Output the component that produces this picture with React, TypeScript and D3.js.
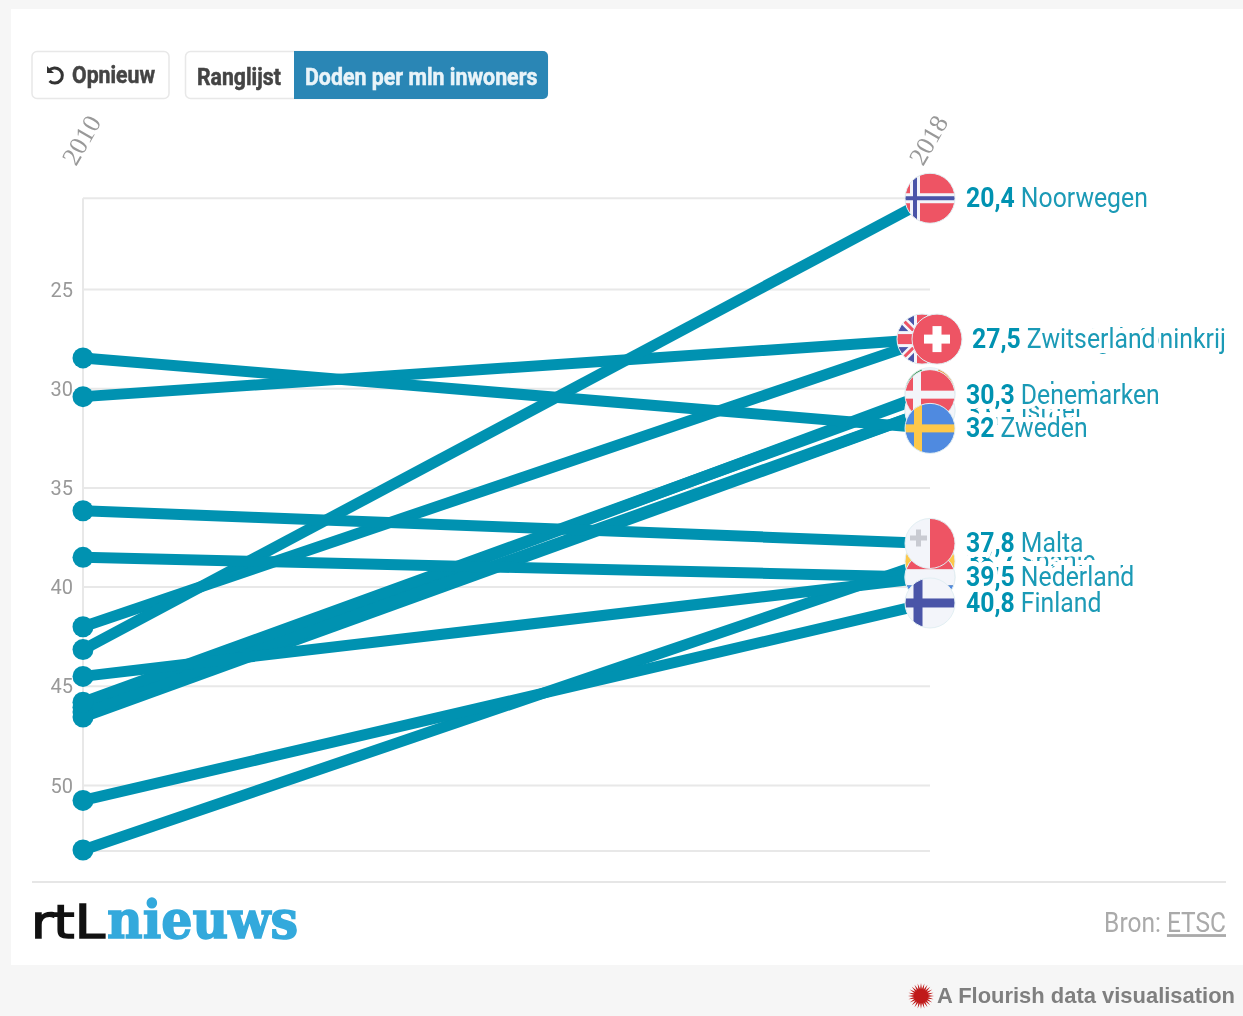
import React from "react";
import * as d3 from "d3";

const years = [2010, 2018];
const axisTicks = [25, 30, 35, 40, 45, 50];
const countries = ["Verenigd Koninkrijk", "Zwitserland", "Noorwegen", "Ierland", "IJsland", "Israël", "Denemarken", "Zweden", "Spanje", "Duitsland", "Malta", "Nederland", "Finland"];
const flags = ["uk", "ch", "no", "ie", "is", "il", "dk", "se", "es", "de", "mt", "nl", "fi"];
const values2010 = [30.4, 42, 43.15, 46.05, 46.55, 46.3, 45.8, 28.45, 53.25, 38.5, 36.15, 44.5, 50.75];
const values2018 = [27.5, 27.5, 20.4, 30.2, 31.1, 31.1, 30.3, 32, 38.7, 39.5, 37.8, 39.5, 40.8];
const flagStack = ["uk", "ch", "no", "ie", "is", "il", "dk", "se", "es", "de", "nl", "mt", "fi"];
const flagNudge: Record<string, number> = { uk: -8, ch: 7 };
const labelNudge: Record<string, number> = { uk: 6, ch: 6 };
const unlabelled = new Set(["is"]);

const W = 1243, H = 1016;
const TEAL = "#0092b1";
const RED = "#ee5464";
const NAVY = "#4a55a8";
const PAPER = "#f3f5fa";
const CONDENSED = "scale(0.885,1)";

const y = d3.scaleLinear().domain([25, 50]).range([289.5, 785.5]);
const x = d3.scaleLinear().domain(years).range([83, 930]);
const gridValues = [20.4, ...axisTicks, 53.3];

function cross(bg: string, fg: string, cx: number, w: number, inner?: string) {
  return (
    <g>
      <rect x={-25} y={-25} width={50} height={50} fill={bg} />
      <rect x={cx - w / 2} y={-25} width={w} height={50} fill={fg} />
      <rect x={-25} y={-w / 2} width={50} height={w} fill={fg} />
      {inner && <rect x={cx - 2} y={-25} width={4} height={50} fill={inner} />}
      {inner && <rect x={-25} y={-2} width={50} height={4} fill={inner} />}
    </g>
  );
}

function FlagArt({ code }: { code: string }) {
  const band = (c: string, yy: number, h: number) => <rect x={-25} y={yy} width={50} height={h} fill={c} />;
  switch (code) {
    case "no": return cross(RED, PAPER, -15, 10, NAVY);
    case "is": return cross(NAVY, PAPER, -12, 10, RED);
    case "dk": return cross(RED, PAPER, -13, 8);
    case "se": return cross("#4f8ae0", "#fdc84a", -12, 8);
    case "fi": return cross(PAPER, NAVY, -12, 9);
    case "ch":
      return (
        <g>
          <rect x={-25} y={-25} width={50} height={50} fill={RED} />
          <rect x={-13} y={-4.5} width={26} height={9} fill="#fff" />
          <rect x={-4.5} y={-13} width={9} height={26} fill="#fff" />
        </g>
      );
    case "uk":
      return (
        <g>
          <rect x={-25} y={-25} width={50} height={50} fill={NAVY} />
          <path d="M-25-25L25 25M25-25L-25 25" stroke={PAPER} strokeWidth={8} />
          <path d="M-25-25L25 25M25-25L-25 25" stroke={RED} strokeWidth={3} />
          <rect x={-25} y={-8} width={50} height={16} fill={PAPER} />
          <rect x={-8} y={-25} width={16} height={50} fill={PAPER} />
          <rect x={-25} y={-5} width={50} height={10} fill={RED} />
          <rect x={-5} y={-25} width={10} height={50} fill={RED} />
        </g>
      );
    case "nl": return <g>{band(RED, -25, 17)}{band(PAPER, -8, 16)}{band("#4f8ae0", 8, 17)}</g>;
    case "de": return <g>{band("#333", -25, 17)}{band(RED, -8, 16)}{band("#fdc84a", 8, 17)}</g>;
    case "es": return <g>{band(RED, -25, 13)}{band("#fdc84a", -12, 24)}{band(RED, 12, 13)}</g>;
    case "il": return <g>{band(PAPER, -25, 50)}{band("#4f8ae0", -18, 6)}{band("#4f8ae0", 12, 6)}</g>;
    case "ie":
      return (
        <g>
          <rect x={-25} y={-25} width={17} height={50} fill="#3f9c5a" />
          <rect x={-8} y={-25} width={16} height={50} fill={PAPER} />
          <rect x={8} y={-25} width={17} height={50} fill="#f39a3c" />
        </g>
      );
    case "mt":
      return (
        <g>
          <rect x={-25} y={-25} width={25} height={50} fill={PAPER} />
          <rect x={0} y={-25} width={25} height={50} fill={RED} />
          <path d="M-20-8h6v-6h5v6h6v5h-6v6h-5v-6h-6z" fill="#c9cbd2" />
        </g>
      );
    default: return null;
  }
}

const burst = d3.range(48).map((i) => ({ a: (i / 48) * 2 * Math.PI, r: i % 2 ? 7 : 13 }));
const burstPath = d3.lineRadial<{ a: number; r: number }>().angle((d) => d.a).radius((d) => d.r).curve(d3.curveLinearClosed)(burst) as string;

export default function App() {
  const order = d3.range(countries.length);
  const lineFor = d3.line<number>().x((_, j) => x(years[j])).y((v) => y(v));
  return (
    <svg width={W} height={H} viewBox={`0 0 ${W} ${H}`} style={{ position: "absolute", left: 0, top: 0, filter: "blur(0.55px)" }} fontFamily="Roboto, sans-serif">
      <defs>
        <clipPath id="flag-clip"><circle r={25} /></clipPath>
        <clipPath id="label-clip"><rect x={900} y={150} width={327} height={500} /></clipPath>
      </defs>
      <rect width={W} height={H} fill="#f6f6f6" />
      <rect x={11} y={9} width={W - 11} height={956} fill="#fff" />

      {/* controls */}
      <rect x={32} y={51.5} width={137} height={47} rx={5} fill="#fff" stroke="#e8e8e8" strokeWidth={1.5} />
      <path d="M49 70.5A7.6 7.6 0 1 1 49.5 81" fill="none" stroke="#333" strokeWidth={3} />
      <path d="M47 66v7h7z" fill="#333" />
      <text transform="translate(72,83) scale(0.885,1)" fontSize={24} fontWeight={700} fill="#444" stroke="#444" strokeWidth={0.5}>Opnieuw</text>
      <rect x={185.5} y={51.5} width={362} height={47} rx={5} fill="#fff" stroke="#e8e8e8" strokeWidth={1.5} />
      <path d="M294 51H543a5 5 0 0 1 5 5V94a5 5 0 0 1-5 5H294z" fill="#2a86b5" />
      <text transform="translate(197,85) scale(0.885,1)" fontSize={24} fontWeight={700} fill="#444" stroke="#444" strokeWidth={0.5}>Ranglijst</text>
      <text transform="translate(305,85) scale(0.89,1)" fontSize={24} fontWeight={700} fill="#e9f4f9" stroke="#e9f4f9" strokeWidth={0.5}>Doden per mln inwoners</text>

      {/* grid */}
      {gridValues.map((v) => (
        <line key={v} x1={x(years[0])} x2={x(years[1])} y1={y(v)} y2={y(v)} stroke="#e8e8e8" strokeWidth={2} />
      ))}
      <line x1={x(years[0])} x2={x(years[0])} y1={y(gridValues[0])} y2={y(53.3)} stroke="#e8e8e8" strokeWidth={2} />
      {axisTicks.map((v) => (
        <text key={v} x={73} y={y(v) + 7} textAnchor="end" fontSize={20} fill="#999">{v}</text>
      ))}
      {years.map((yr) => (
        <text key={yr} transform={`translate(${x(yr) - 7},${167}) rotate(-60)`} fontFamily="'Liberation Serif', serif" fontSize={26} fill="#999">{yr}</text>
      ))}

      {/* lines */}
      {order.map((i) => (
        <g key={countries[i]}>
          <path d={lineFor([values2010[i], values2018[i]]) as string} fill="none" stroke={TEAL} strokeWidth={11} />
          <circle cx={x(years[0])} cy={y(values2010[i])} r={10.5} fill={TEAL} />
        </g>
      ))}

      {/* flags */}
      {flagStack.map((code) => {
        const i = flags.indexOf(code);
        const nudge = flagNudge[code] ?? 0;
        return (
          <g key={code} transform={`translate(${x(years[1]) + nudge},${y(values2018[i])})`}>
            <g clipPath="url(#flag-clip)"><FlagArt code={code} /></g>
            <circle r={25} fill="none" stroke="#e2eff3" strokeWidth={1} />
          </g>
        );
      })}

      {/* labels */}
      <g clipPath="url(#label-clip)">
        {order.filter((i) => !unlabelled.has(flags[i])).map((i) => {
          const nudge = labelNudge[flags[i]] ?? 0;
          return (
            <text
              key={countries[i]}
              transform={`translate(${966 + nudge},${y(values2018[i]) + 9}) ${CONDENSED}`}
              fontSize={28}
              fill="#1b9ab6"
              stroke="#fff"
              strokeWidth={10}
              paintOrder="stroke"
            >
              <tspan fontWeight={700} fill={TEAL}>{String(values2018[i]).replace(".", ",")}</tspan>
              <tspan> {countries[i]}</tspan>
            </text>
          );
        })}
      </g>

      {/* footer */}
      <line x1={32} x2={1226} y1={882} y2={882} stroke="#e6e6e6" strokeWidth={2} />
      <text x={31} y={938} fontFamily="'DejaVu Sans', sans-serif" fontSize={46} fill="#111" stroke="#111" strokeWidth={1.5} textLength={74} lengthAdjust="spacingAndGlyphs">rtL</text>
      <text x={107} y={938} fontFamily="'DejaVu Serif', serif" fontSize={52} fontWeight={700} fill="#33a9dc" stroke="#33a9dc" strokeWidth={1.5} textLength={191} lengthAdjust="spacingAndGlyphs">nieuws</text>
      <text transform="translate(1226,932) scale(0.875,1)" textAnchor="end" fontSize={28} fill="#aaa">
        Bron: <tspan textDecoration="underline">ETSC</tspan>
      </text>
      <path d={burstPath} transform="translate(921,996)" fill="#c01a1a" />
      <text x={937} y={1003} fontFamily="'Liberation Sans', sans-serif" fontSize={22} fontWeight={700} fill="#7f7f7f" textLength={298} lengthAdjust="spacingAndGlyphs">A Flourish data visualisation</text>
    </svg>
  );
}
